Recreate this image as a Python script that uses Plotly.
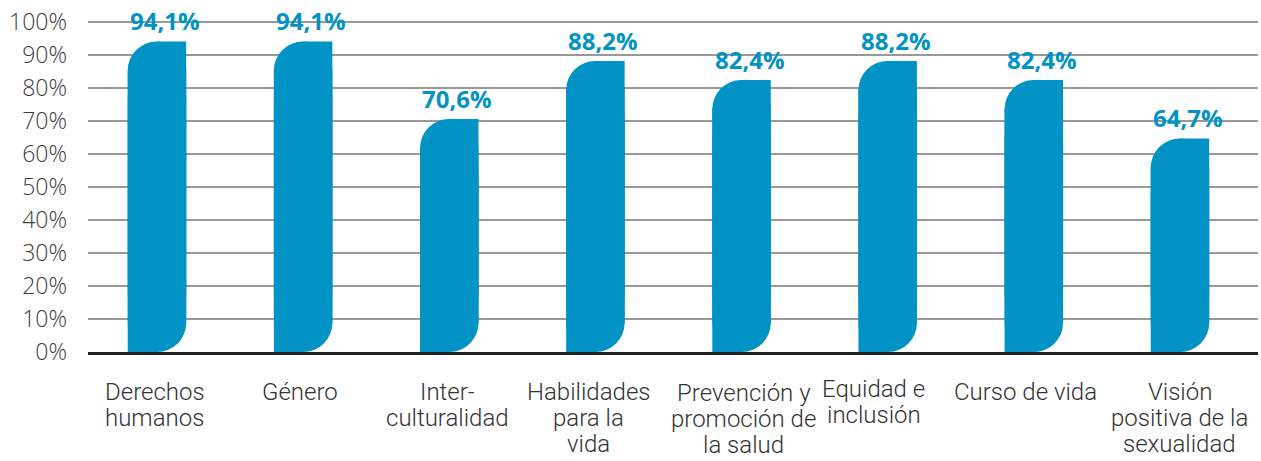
import plotly.graph_objects as go

categories = [
    "Derechos<br>humanos",
    "Género",
    "Inter-<br>culturalidad",
    "Habilidades<br>para la<br>vida",
    "Prevención y<br>promoción de<br>la salud",
    "Equidad e<br>inclusión",
    "Curso de vida",
    "Visión<br>positiva de la<br>sexualidad",
]
values = [94.1, 94.1, 70.6, 88.2, 82.4, 88.2, 82.4, 64.7]
tick_values = [0, 10, 20, 30, 40, 50, 60, 70, 80, 90, 100]
tick_labels = [f"{t}%" for t in tick_values]
value_labels = [f"{v:.1f}".replace(".", ",") + "%" for v in values]

# small hand-placement nudges of the category captions (px), as in the original layout
label_dx = [-2, -3, -2, -7, 2, -14, -8, 0]
label_dy = [0, 0, 0, 0, 1, -3, 0, 0]

COLOR = "#0193c5"
W, H = 1261, 461
M_L, M_R, M_T, M_B = 88, 3, 20, 109
Y_RANGE = [0, 100.6]
PX_PER_UNIT = (H - M_T - M_B) / (Y_RANGE[1] - Y_RANGE[0])
RADIUS_PX = 28
r = RADIUS_PX / PX_PER_UNIT  # corner radius expressed in axis units

x_idx = list(range(len(categories)))
upper = [v - r for v in values]

fig = go.Figure()
# full-width bar from r up to value, rounded top corners
fig.add_trace(go.Bar(x=x_idx, y=upper, base=[r] * len(values), width=0.4, offset=-0.2,
                     marker=dict(color=COLOR, line=dict(width=0), cornerradius="50%"),
                     customdata=values, hovertemplate="%{customdata}%<extra></extra>"))
# right half, square top-right corner
fig.add_trace(go.Bar(x=x_idx, y=upper, base=[r] * len(values), width=0.2, offset=0,
                     marker=dict(color=COLOR, line=dict(width=0)), hoverinfo="skip"))
# full-width bar from value-r down to 0, rounded bottom corners
fig.add_trace(go.Bar(x=x_idx, y=[-u for u in upper], base=upper, width=0.4, offset=-0.2,
                     marker=dict(color=COLOR, line=dict(width=0), cornerradius="50%"),
                     hoverinfo="skip"))
# left half, square bottom-left corner
fig.add_trace(go.Bar(x=x_idx, y=upper, base=[0] * len(values), width=0.2, offset=-0.2,
                     marker=dict(color=COLOR, line=dict(width=0)), hoverinfo="skip"))

for i, (v, lab) in enumerate(zip(values, value_labels)):
    fig.add_annotation(x=i, y=v, text=lab, showarrow=False, yanchor="bottom",
                       xanchor="center", yshift=2, xshift=8,
                       font=dict(family="Open Sans", size=24, color=COLOR, weight="bold"))

# category labels, one annotation per line for tight line spacing
LINE_H = 26
for i, cat in enumerate(categories):
    for k, line in enumerate(cat.split("<br>")):
        fig.add_annotation(x=i, y=0, yref="paper", text=line, showarrow=False,
                           xanchor="center", yanchor="middle",
                           xshift=label_dx[i],
                           yshift=-(40 + label_dy[i] + LINE_H * k),
                           font=dict(family="Roboto", size=24, color="#333333", weight=300))

fig.update_layout(
    width=W, height=H,
    margin=dict(l=M_L, r=M_R, t=M_T, b=M_B, autoexpand=False),
    barmode="overlay",
    showlegend=False,
    plot_bgcolor="white", paper_bgcolor="white",
    xaxis=dict(
        range=[-0.472, 7.534], automargin=False,
        tickmode="array", tickvals=x_idx, ticktext=[""] * len(x_idx),
        showticklabels=False,
        showline=True, linecolor="#222222", linewidth=3,
        showgrid=False, zeroline=False, ticks="",
    ),
    yaxis=dict(
        range=Y_RANGE, automargin=False,
        tickmode="array", tickvals=tick_values, ticktext=tick_labels,
        tickfont=dict(family="Open Sans", size=23, color="#3c3c3c", weight=300),
        ticklabelstandoff=20,
        showgrid=True, gridcolor="#999999", gridwidth=1.5,
        zeroline=False, showline=False, ticks="",
    ),
)

fig.write_html("out.html", config={"displayModeBar": False},
               post_script="document.body.style.margin='0';document.body.style.overflow='hidden';")
